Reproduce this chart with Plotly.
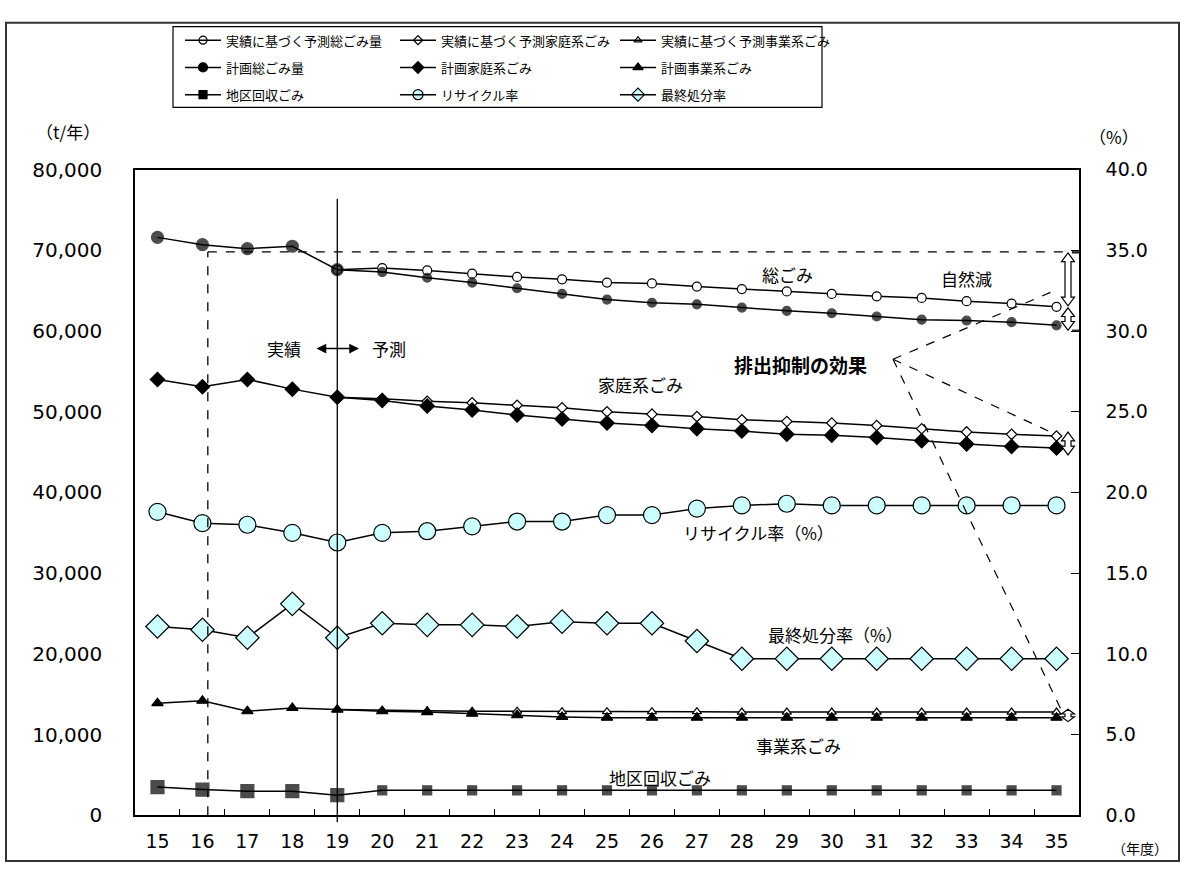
import plotly.graph_objects as go

# ---------------- data ----------------
years = [15, 16, 17, 18, 19, 20, 21, 22, 23, 24, 25, 26, 27, 28, 29, 30, 31, 32, 33, 34, 35]
year_labels = ["15", "16", "17", "18", "19", "20", "21", "22", "23", "24", "25",
               "26", "27", "28", "29", "30", "31", "32", "33", "34", "35"]

# t/年
total_plan = [71600, 70700, 70200, 70500, 67600, 67300, 66600, 66000, 65300, 64600, 63900,
              63500, 63300, 62900, 62500, 62200, 61800, 61400, 61300, 61100, 60700]
total_trend = [None, None, None, None, 67600, 67800, 67500, 67100, 66700, 66400, 66000,
               65900, 65500, 65200, 64900, 64600, 64300, 64100, 63700, 63400, 63000]
household_plan = [54000, 53100, 54000, 52800, 51800, 51400, 50700, 50200, 49600, 49100, 48600,
                  48300, 47900, 47600, 47200, 47100, 46800, 46400, 46000, 45700, 45500]
household_trend = [None, None, None, None, 51800, 51600, 51300, 51100, 50800, 50500, 50000,
                   49700, 49400, 49000, 48800, 48600, 48300, 47900, 47500, 47200, 47000]
business_plan = [13900, 14200, 12900, 13300, 13100, 12900, 12800, 12600, 12400, 12200, 12100,
                 12100, 12100, 12100, 12100, 12100, 12100, 12100, 12100, 12100, 12100]
business_trend = [None, None, None, None, 13100, 13000, 12950, 12900, 12900, 12850, 12850,
                  12850, 12850, 12800, 12800, 12800, 12800, 12800, 12800, 12800, 12800]
area_collection = [3500, 3200, 3000, 3000, 2500, 3100, 3100, 3100, 3100, 3100, 3100,
                   3100, 3100, 3100, 3100, 3100, 3100, 3100, 3100, 3100, 3100]

# %
recycle_rate = [18.8, 18.1, 18.0, 17.5, 16.9, 17.5, 17.6, 17.9, 18.2, 18.2, 18.6,
                18.6, 19.0, 19.2, 19.3, 19.2, 19.2, 19.2, 19.2, 19.2, 19.2]
landfill_rate = [11.7, 11.5, 11.0, 13.1, 11.0, 11.9, 11.8, 11.8, 11.7, 12.0, 11.9,
                 11.9, 10.8, 9.7, 9.7, 9.7, 9.7, 9.7, 9.7, 9.7, 9.7]

left_ticks = [0, 10000, 20000, 30000, 40000, 50000, 60000, 70000, 80000]
right_ticks = [0, 5, 10, 15, 20, 25, 30, 35, 40]
ref_level = 69800      # 基準線（16年度）
ref_year = 16.12
split_year = 19        # 実績／予測の境

# ---------------- geometry / style ----------------
W, H = 1184, 876
PL, PR, PT, PB = 135, 1079, 162, 826
X_RANGE = [14.5, 35.5]
Y_MAX = 80000

JP = "Noto Sans CJK JP"
NUM = "DejaVu Sans"
BLACK = "#000000"
CYAN = "#CCFFFF"
LW = 1.5


def px_x(v):
    return PL + (v - X_RANGE[0]) / (X_RANGE[1] - X_RANGE[0]) * (PR - PL)


def px_y(v):
    return PB - v / Y_MAX * (PB - PT)


actual_big = [y <= split_year for y in years]

fig = go.Figure()


def series(y, name, symbol, fill, sizes, axis="y"):
    fig.add_trace(go.Scatter(
        x=years, y=y, name=name, mode="lines+markers", yaxis=axis,
        line=dict(color=BLACK, width=LW),
        marker=dict(symbol=symbol, color=fill, size=sizes,
                    line=dict(color=BLACK, width=1.2)),
        connectgaps=False, cliponaxis=False, showlegend=False,
    ))


series(total_trend, "実績に基づく予測総ごみ量", "circle", "white", 9)
series(household_trend, "実績に基づく予測家庭系ごみ", "diamond", "white", 8)
series(business_trend, "実績に基づく予測事業系ごみ", "triangle-up", "white", 8)
series(total_plan, "計画総ごみ量", "circle", BLACK, [12 if b else 9 for b in actual_big])
series(household_plan, "計画家庭系ごみ", "diamond", BLACK, 11)
series(business_plan, "計画事業系ごみ", "triangle-up", BLACK, 10)
series(area_collection, "地区回収ごみ", "square", BLACK, [13 if b else 9 for b in actual_big])
series(recycle_rate, "リサイクル率", "circle", CYAN, 17, axis="y2")
series(landfill_rate, "最終処分率", "diamond", CYAN, 18, axis="y2")

# ---------------- legend key (drawn in pixel space) ----------------
legend_items = [
    ("実績に基づく予測総ごみ量", "circle", "white", 8),
    ("実績に基づく予測家庭系ごみ", "diamond", "white", 7),
    ("実績に基づく予測事業系ごみ", "triangle-up", "white", 7),
    ("計画総ごみ量", "circle", BLACK, 9),
    ("計画家庭系ごみ", "diamond", BLACK, 9),
    ("計画事業系ごみ", "triangle-up", BLACK, 9),
    ("地区回収ごみ", "square", BLACK, 8),
    ("リサイクル率", "circle", CYAN, 10),
    ("最終処分率", "diamond", CYAN, 10),
]
leg_cols = [185, 400, 620]
leg_rows = [29, 57, 85]
shapes = []
annotations = []
for i, (label, sym, fill, size) in enumerate(legend_items):
    cx = leg_cols[i % 3]
    cy = leg_rows[i // 3]
    shapes.append(dict(type="line", xref="x3", yref="y3", x0=cx, x1=cx + 36, y0=cy, y1=cy,
                       line=dict(color=BLACK, width=LW)))
    fig.add_trace(go.Scatter(
        x=[cx + 18], y=[cy], xaxis="x3", yaxis="y3", mode="markers",
        marker=dict(symbol=sym, color=fill, size=size, line=dict(color=BLACK, width=1.2)),
        showlegend=False, hoverinfo="skip", cliponaxis=False,
    ))
    annotations.append(dict(xref="x3", yref="y3", x=cx + 39, y=cy, text=label,
                            showarrow=False, xanchor="left", yanchor="middle",
                            font=dict(family=JP, size=13, color=BLACK)))

shapes.append(dict(type="rect", xref="x3", yref="y3", x0=173, x1=822, y0=15, y1=98,
                   line=dict(color=BLACK, width=1.2), layer="below"))
# outer frame
shapes.append(dict(type="rect", xref="x3", yref="y3", x0=6, x1=1179, y0=11, y1=873,
                   line=dict(color="#333333", width=2), layer="below"))

# reference lines
shapes.append(dict(type="line", xref="x", yref="y", x0=ref_year, x1=X_RANGE[1],
                   y0=ref_level, y1=ref_level, line=dict(color=BLACK, width=1.3, dash="dash")))
shapes.append(dict(type="line", xref="x", yref="y", x0=ref_year, x1=ref_year,
                   y0=0, y1=ref_level, line=dict(color=BLACK, width=1.3, dash="dash")))
sx = px_x(split_year)
shapes.append(dict(type="line", xref="x3", yref="y3", x0=sx, x1=sx, y0=192, y1=833,
                   line=dict(color=BLACK, width=1.3)))

# 排出抑制の効果 leader lines
lead_from = (893, 357)
for tx, ty in [(1058, 285),
               (1053, 433),
               (1064, px_y(business_plan[-1]) - 2)]:
    shapes.append(dict(type="line", xref="x3", yref="y3", x0=lead_from[0], y0=lead_from[1],
                       x1=tx, y1=ty, line=dict(color=BLACK, width=1.2, dash="dash")))


def block_arrow(xc, y0, y1, shaft=3.0, head=6.5, hl=9.0):
    hl = min(hl, (y1 - y0) / 2.0)
    pts = [(xc, y0), (xc + head, y0 + hl), (xc + shaft, y0 + hl), (xc + shaft, y1 - hl),
           (xc + head, y1 - hl), (xc, y1), (xc - head, y1 - hl), (xc - shaft, y1 - hl),
           (xc - shaft, y0 + hl), (xc - head, y0 + hl)]
    path = "M " + " L ".join(f"{x:.1f},{y:.1f}" for x, y in pts) + " Z"
    return dict(type="path", xref="x3", yref="y3", path=path, fillcolor="white",
                line=dict(color=BLACK, width=1.2))


AX = 1068
shapes.append(block_arrow(AX, px_y(ref_level) + 1, px_y(total_trend[-1]) - 1))
shapes.append(block_arrow(AX, px_y(total_trend[-1]) + 1, px_y(total_plan[-1]) + 5))
shapes.append(block_arrow(AX, px_y(household_trend[-1]) - 4, px_y(household_plan[-1]) + 7))
shapes.append(block_arrow(AX, px_y(business_trend[-1]) - 3, px_y(business_plan[-1]) + 4,
                          hl=5))
# short end marks beside the arrows
for yy in (px_y(ref_level) + 1, px_y(total_plan[-1]) + 5):
    shapes.append(dict(type="line", xref="x3", yref="y3", x0=AX + 4, x1=PR, y0=yy, y1=yy,
                       line=dict(color=BLACK, width=1.2)))


def label(x, y, text, size=17, bold=False, anchor="center"):
    annotations.append(dict(xref="x3", yref="y3", x=x, y=y, text=f"<b>{text}</b>" if bold else text,
                            showarrow=False, xanchor=anchor, yanchor="middle",
                            font=dict(family=JP, size=size, color=BLACK)))


label(68, 123, "（t/年）", 17)
label(1114, 128, "（%）", 17)
label(1140, 860, "（年度）", 14)
label(284, 346, "実績", 17)
label(389, 346, "予測", 17)
label(787, 270, "総ごみ", 17)
label(966, 274, "自然減", 17)
label(800, 362, "排出抑制の効果", 19, bold=True)
label(640, 383, "家庭系ごみ", 17)
label(758, 535, "リサイクル率（%）", 17)
label(835, 640, "最終処分率（%）", 17)
label(798, 754, "事業系ごみ", 17)
label(660, 787, "地区回収ごみ", 17)

# 実績 ⇔ 予測 arrow
annotations.append(dict(xref="x3", yref="y3", x=359, y=346, ax=315, ay=346,
                        axref="x3", ayref="y3", text="", showarrow=True,
                        arrowhead=2, startarrowhead=2, arrowside="end+start",
                        arrowsize=1.3, arrowwidth=1.5, arrowcolor=BLACK))

fig.update_layout(
    width=W, height=H,
    margin=dict(l=0, r=0, t=0, b=0),
    paper_bgcolor="white", plot_bgcolor="rgba(0,0,0,0)",
    showlegend=False,
    xaxis=dict(
        domain=[PL / W, PR / W], range=X_RANGE, anchor="y",
        tickmode="array", tickvals=years, ticktext=year_labels,
        ticks="", showline=True, linecolor=BLACK, linewidth=LW, mirror=True,
        showgrid=False, zeroline=False, ticklabelstandoff=8,
        tickfont=dict(family=NUM, size=19, color=BLACK),
        minor=dict(tickvals=[y + 0.5 for y in years[:-1]], ticks="inside", ticklen=7,
                   tickwidth=1.2, tickcolor=BLACK, showgrid=False),
    ),
    yaxis=dict(
        domain=[(H - PB) / H, (H - PT) / H], range=[0, Y_MAX], anchor="x",
        tickmode="array", tickvals=left_ticks, ticktext=[f"{v:,}" for v in left_ticks],
        ticks="", showline=True, linecolor=BLACK, linewidth=LW,
        showgrid=False, zeroline=False, ticklabelstandoff=27,
        tickfont=dict(family=NUM, size=20, color=BLACK),
    ),
    yaxis2=dict(
        overlaying="y", side="right", anchor="x", range=[0, 40],
        tickmode="array", tickvals=right_ticks, ticktext=[f"{v:.1f}" for v in right_ticks],
        ticks="inside", ticklen=8, tickwidth=1.2, tickcolor=BLACK,
        showline=True, linecolor=BLACK, linewidth=LW,
        showgrid=False, zeroline=False, ticklabelstandoff=21,
        tickfont=dict(family=NUM, size=19, color=BLACK),
    ),
    xaxis3=dict(domain=[0, 1], range=[0, W], anchor="y3", visible=False, fixedrange=True),
    yaxis3=dict(domain=[0, 1], range=[H, 0], anchor="x3", visible=False, fixedrange=True),
    shapes=shapes,
    annotations=annotations,
)

fig.write_html("out.html")
